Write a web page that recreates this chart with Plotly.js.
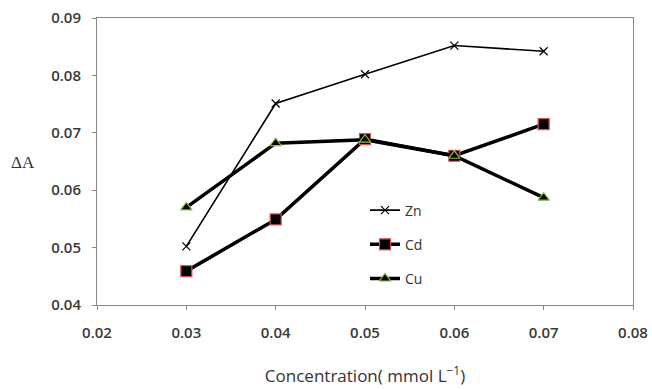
<!DOCTYPE html>
<html><head><meta charset="utf-8">
<script src="https://cdn.plot.ly/plotly-3.0.1.min.js"></script>
<style>html,body{margin:0;padding:0;background:#fff}#chart{width:652px;height:389px}</style>
</head><body><div id="chart"></div>
<script>
const concentration = [0.03, 0.04, 0.05, 0.06, 0.07];
const zn = [0.0502, 0.0751, 0.0802, 0.0852, 0.0842];
const cd = [0.0459, 0.0549, 0.0689, 0.0660, 0.0715];
const cu = [0.0570, 0.0682, 0.0688, 0.0660, 0.0587];
const xTicks = [0.02, 0.03, 0.04, 0.05, 0.06, 0.07, 0.08];
const yTicks = [0.04, 0.05, 0.06, 0.07, 0.08, 0.09];

const traces = [
  {x: concentration, y: zn, name: 'Zn', mode: 'lines+markers', legendgroup: 'a',
   line: {color: '#000', width: 1.6},
   marker: {symbol: 'x-thin', size: 8, line: {color: '#000', width: 1.2}}},
  {x: concentration, y: cd, name: 'Cd', mode: 'lines+markers', legendgroup: 'b',
   line: {color: '#000', width: 3.5},
   marker: {symbol: 'square', size: 11, color: '#000', line: {color: '#e05050', width: 1.2}}},
  {x: concentration, y: cu, name: 'Cu', mode: 'lines+markers', legendgroup: 'c',
   line: {color: '#000', width: 3.5},
   marker: {symbol: 'triangle-up', size: 10, color: '#000', line: {color: '#8ac040', width: 1.2}}}
];

const tickFont = {family: 'Open Sans, sans-serif', size: 15, color: '#3a3a3a', weight: 600};
const layout = {
  width: 652, height: 389,
  margin: {l: 97, r: 19, t: 18, b: 84},
  paper_bgcolor: '#fff', plot_bgcolor: '#fff',
  showlegend: true,
  legend: {x: 0.5, y: 0.385, xanchor: 'left', yanchor: 'top', bgcolor: 'rgba(0,0,0,0)',
           font: {family: 'Open Sans, sans-serif', size: 14, color: '#333'},
           traceorder: 'grouped', tracegroupgap: 13},
  xaxis: {range: [0.02, 0.08], tickvals: xTicks, ticktext: xTicks.map(v => v.toFixed(2)),
          showgrid: false, zeroline: false, showline: true, linecolor: '#888', linewidth: 1,
          mirror: true, ticks: 'outside', ticklen: 4, tickcolor: '#888', tickfont: tickFont,
          ticklabelstandoff: 10,
          title: {text: 'Concentration( mmol L<sup>−1</sup>)', standoff: 29,
                  font: {family: 'Open Sans, sans-serif', size: 17, color: '#333'}}},
  yaxis: {range: [0.04, 0.09], tickvals: yTicks, ticktext: yTicks.map(v => v.toFixed(2)),
          showgrid: false, zeroline: false, showline: true, linecolor: '#888', linewidth: 1,
          mirror: true, ticks: 'outside', ticklen: 4, tickcolor: '#888', tickfont: tickFont,
          ticklabelstandoff: 8},
  annotations: [{text: 'ΔA', xref: 'paper', yref: 'paper', x: -0.138, y: 0.495,
                 xanchor: 'center', yanchor: 'middle', showarrow: false,
                 font: {family: 'Liberation Serif, serif', size: 17, color: '#333'}}]
};
Plotly.newPlot('chart', traces, layout, {displayModeBar: false, staticPlot: true});
</script></body></html>
